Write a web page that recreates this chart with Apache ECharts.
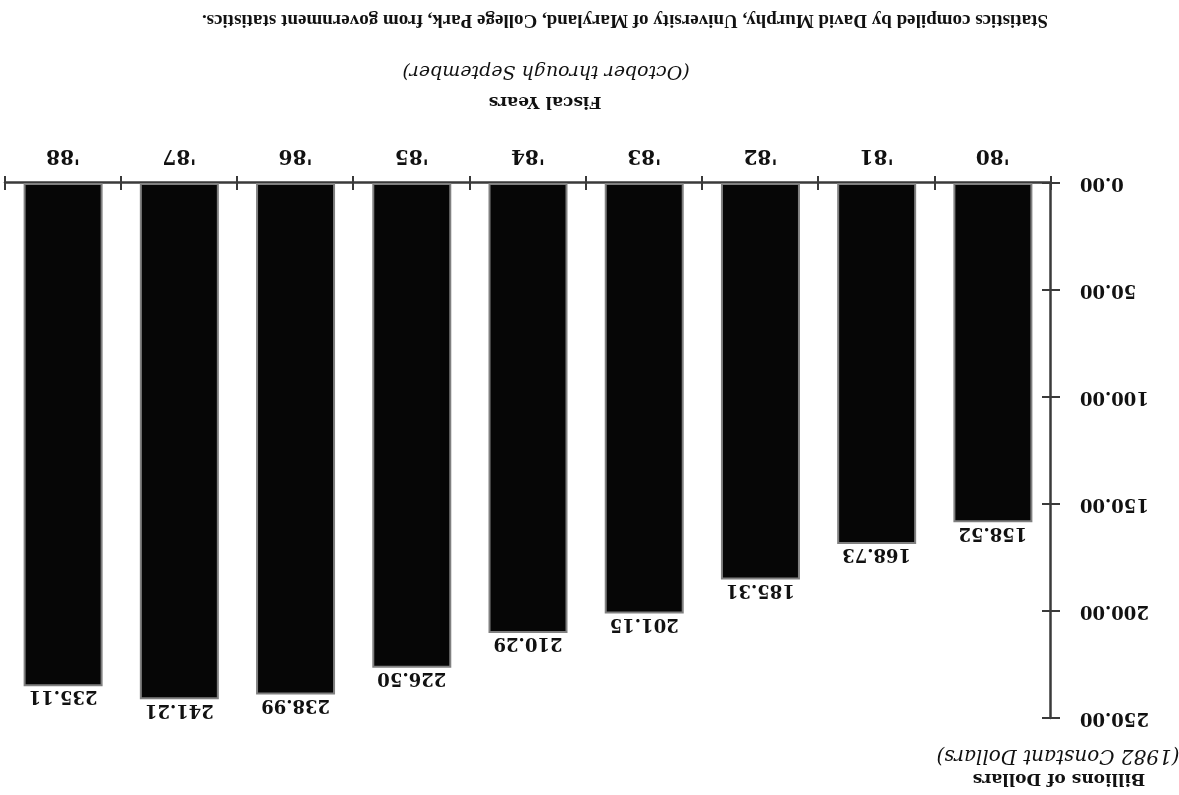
<!DOCTYPE html>
<html>
<head>
<meta charset="utf-8">
<script src="https://cdn.jsdelivr.net/npm/echarts@6/dist/echarts.min.js"></script>
<style>
  html, body { margin: 0; padding: 0; background: #fff; }
  #wrap { width: 1179px; height: 795px; transform: rotate(180deg); transform-origin: 50% 50%; }
  #chart { width: 1179px; height: 795px; }
</style>
</head>
<body>
<div id="wrap"><div id="chart"></div></div>
<script>
const categories = ["'80", "'81", "'82", "'83", "'84", "'85", "'86", "'87", "'88"];
const values = [158.52, 168.73, 185.31, 201.15, 210.29, 226.50, 238.99, 241.21, 235.11];
const yTicks = [0, 50, 100, 150, 200, 250];
const yTitle1 = 'Billions of Dollars';
const yTitle2 = '(1982 Constant Dollars)';
const xTitle1 = 'Fiscal Years';
const xTitle2 = '(October through September)';
const source = 'Statistics compiled by David Murphy, University of Maryland, College Park, from government statistics.';

const serif = "'DejaVu Serif', serif";
const axisColor = '#3a3a3a';

const chart = echarts.init(document.getElementById('chart'), null, { renderer: 'canvas' });
chart.setOption({
  animation: false,
  backgroundColor: '#ffffff',
  grid: { left: 128, right: 5, top: 77, bottom: 183, containLabel: false },
  xAxis: [
    {
      type: 'category', data: categories, boundaryGap: true, position: 'bottom',
      axisLine: { show: true, lineStyle: { color: axisColor, width: 2.5 } },
      axisTick: { show: true, alignWithLabel: false, length: 7, lineStyle: { color: axisColor, width: 2 } },
      axisLabel: { margin: 18, color: '#111', fontFamily: serif, fontWeight: 'bold', fontSize: 20 }
    },
    {
      type: 'category', data: categories, boundaryGap: true, position: 'bottom', offset: 0,
      axisLine: { show: false },
      axisTick: { show: true, inside: true, length: 7, lineStyle: { color: axisColor, width: 2 } },
      axisLabel: { show: false }
    }
  ],
  yAxis: [
    {
      type: 'value', min: yTicks[0], max: yTicks[yTicks.length - 1], interval: 50, position: 'left',
      splitLine: { show: false },
      axisLine: { show: true, lineStyle: { color: axisColor, width: 2.5 } },
      axisTick: { show: true, length: 9, lineStyle: { color: axisColor, width: 2 } },
      axisLabel: { margin: 29, color: '#111', fontFamily: serif, fontWeight: 'bold', fontSize: 18,
                   formatter: v => v.toFixed(2) }
    },
    {
      type: 'value', min: yTicks[0], max: yTicks[yTicks.length - 1], interval: 50, position: 'left', offset: 0,
      splitLine: { show: false },
      axisLine: { show: false },
      axisTick: { show: true, inside: true, length: 9, lineStyle: { color: axisColor, width: 2 } },
      axisLabel: { show: false }
    }
  ],
  series: [{
    type: 'bar', data: values, xAxisIndex: 0, yAxisIndex: 0, barWidth: 79,
    itemStyle: { color: '#060606', borderColor: '#808080', borderWidth: 2 },
    label: { show: true, position: 'top', distance: 1, color: '#111', fontFamily: serif,
             fontWeight: 'bold', fontSize: 18, formatter: p => p.value.toFixed(2) }
  }],
  graphic: [
    { type: 'text', x: 120, y: 17, style: { text: yTitle1, fill: '#111', font: "bold 17px 'DejaVu Serif'", textAlign: 'center', textVerticalAlign: 'middle' } },
    { type: 'text', x: 121, y: 40, style: { text: yTitle2, fill: '#111', font: "italic 20px 'DejaVu Serif'", textAlign: 'center', textVerticalAlign: 'middle' } },
    { type: 'text', x: 634, y: 694, style: { text: xTitle1, fill: '#111', font: "bold 17px 'DejaVu Serif'", textAlign: 'center', textVerticalAlign: 'middle' } },
    { type: 'text', x: 633, y: 724, style: { text: xTitle2, fill: '#111', font: "italic 19px 'DejaVu Serif'", textAlign: 'center', textVerticalAlign: 'middle' } },
    { type: 'text', x: 554, y: 775, style: { text: source, fill: '#111', font: "bold 19px 'Liberation Serif'", textAlign: 'center', textVerticalAlign: 'middle' } }
  ]
});
</script>
</body>
</html>
